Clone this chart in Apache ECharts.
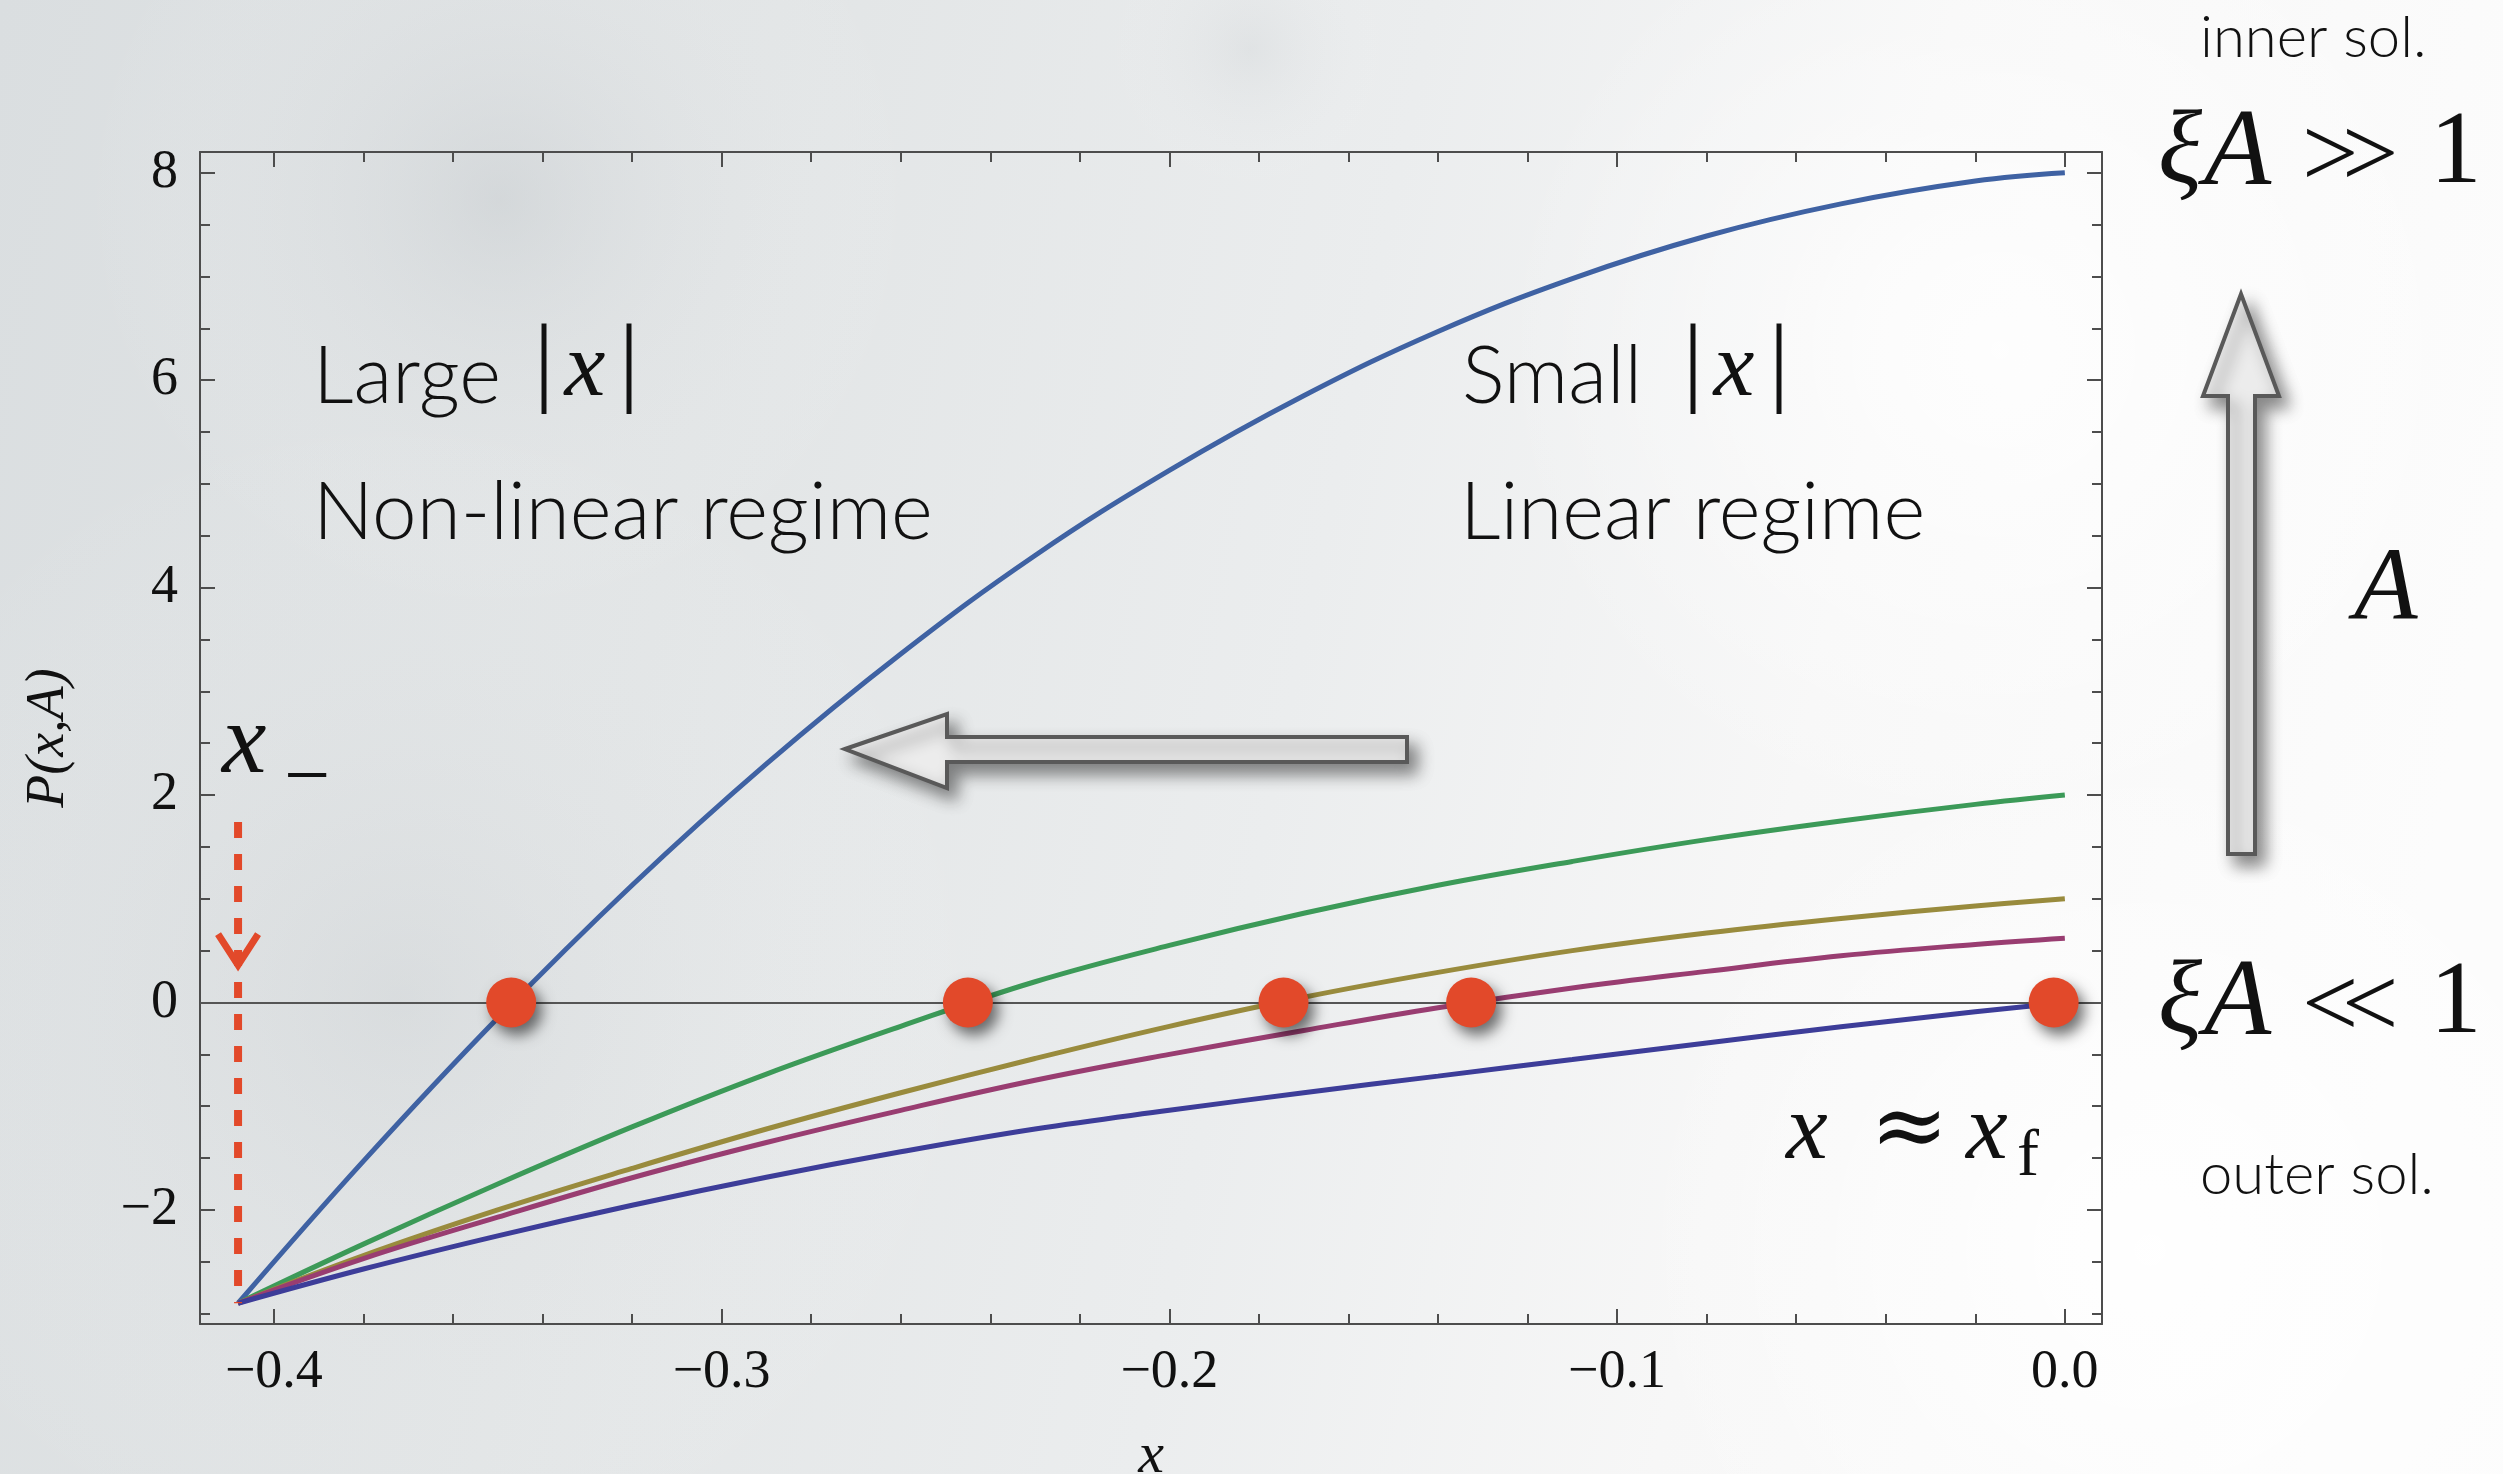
<!DOCTYPE html>
<html>
<head>
<meta charset="utf-8">
<title>P(x,A)</title>
<script src="https://cdn.jsdelivr.net/npm/echarts@6/dist/echarts.min.js"></script>
<style>
  html, body { margin: 0; padding: 0; background: #ffffff; }
  #chart { width: 2503px; height: 1474px; }
</style>
</head>
<body>
<div id="chart"></div>
<script>
// ---- data -------------------------------------------------------------
// Shared x positions for the five P(x,A) curves
const xValues  = [-0.408, -0.38, -0.35, -0.32, -0.29, -0.26, -0.23, -0.20, -0.17, -0.14, -0.11, -0.08, -0.05, -0.02, 0];
// One curve per value of A, from largest (blue) to smallest (purple)
const pBlue    = [-2.9, -1.53, -0.15, 1.13, 2.30, 3.36, 4.31, 5.13, 5.85, 6.47, 6.98, 7.39, 7.70, 7.92, 8.0];
const pGreen   = [-2.9, -2.33, -1.75, -1.20, -0.69, -0.23, 0.20, 0.55, 0.86, 1.13, 1.36, 1.57, 1.75, 1.91, 2.0];
const pOlive   = [-2.9, -2.44, -2.00, -1.60, -1.22, -0.87, -0.54, -0.23, 0.05, 0.29, 0.50, 0.67, 0.81, 0.93, 1.0];
const pMagenta = [-2.9, -2.47, -2.07, -1.69, -1.35, -1.04, -0.75, -0.50, -0.27, -0.05, 0.14, 0.30, 0.45, 0.56, 0.62];
const pPurple  = [-2.9, -2.57, -2.25, -1.955, -1.685, -1.44, -1.22, -1.04, -0.87, -0.71, -0.55, -0.39, -0.235, -0.09, 0];
// Zeros of each curve
const zeroCrossings = [-0.347, -0.245, -0.1745, -0.1326, -0.0025];
// x_- marker: dashed guide from above the axis down to the common start point
const xMinus = -0.408;
const guideTop = 1.74, guideArrow = 0.36, guideBottom = -2.9;
// Plot range
const xRange = [-0.4165, 0.0083];
const yRange = [-3.1, 8.2];

// ---- styling ----------------------------------------------------------
const serif = 'Liberation Serif';
const sans = 'Lato';
const red = '#E2492A';
const frameColor = '#4d4d4d';
const curveColors = ['#3F62A3', '#3C9A58', '#998B3D', '#993D71', '#3D3D99'];
const curves = [pBlue, pGreen, pOlive, pMagenta, pPurple];

const xLabel = v => {
  const k = Math.round(v * 10);
  if (Math.abs(v * 10 - k) > 1e-6) return '';
  return (k < 0 ? '\u2212' : '') + Math.abs(k / 10).toFixed(1);
};
const yLabel = v => {
  const k = Math.round(v);
  if (Math.abs(v - k) > 1e-6) return '';
  return (k < 0 ? '\u2212' : '') + Math.abs(k);
};

const lineCommon = { color: frameColor, width: 2 };
function frameX(pos, labels) {
  return {
    type: 'value', position: pos, min: xRange[0], max: xRange[1], splitNumber: 4,
    axisLine: { show: true, onZero: false, lineStyle: lineCommon },
    axisTick: { show: true, inside: true, length: 15, lineStyle: lineCommon },
    minorTick: { show: true, splitNumber: 5, length: 10, lineStyle: lineCommon },
    splitLine: { show: false }, minorSplitLine: { show: false },
    axisLabel: {
      show: labels, formatter: xLabel, margin: 22, showMinLabel: false, showMaxLabel: false,
      fontFamily: serif, fontSize: 54, color: '#111'
    },
    name: labels ? 'x' : '', nameLocation: 'middle', nameGap: 104,
    nameTextStyle: { fontFamily: serif, fontStyle: 'italic', fontSize: 58, color: '#111' }
  };
}
function frameY(pos, labels) {
  return {
    type: 'value', position: pos, min: yRange[0], max: yRange[1], splitNumber: 6,
    axisLine: { show: true, onZero: false, lineStyle: lineCommon },
    axisTick: { show: true, inside: true, length: 15, lineStyle: lineCommon },
    minorTick: { show: true, splitNumber: 4, length: 10, lineStyle: lineCommon },
    splitLine: { show: false }, minorSplitLine: { show: false },
    axisLabel: {
      show: labels, formatter: yLabel, margin: 22, showMinLabel: false, showMaxLabel: false,
      fontFamily: serif, fontSize: 54, color: '#111'
    },
    name: labels ? 'P(x,A)' : '', nameLocation: 'middle', nameGap: 124, nameRotate: 90,
    nameTextStyle: { fontFamily: serif, fontStyle: 'italic', fontSize: 54, color: '#111' }
  };
}

// ---- annotation helpers (text and grey outline arrows) ----------------
function label(x, y, text, font, align) {
  return {
    type: 'text', x: x, y: y, z: 60,
    style: { text: text, font: font, fill: '#111', align: align || 'left', verticalAlign: 'middle' }
  };
}
function outlineArrow(points) {
  return {
    type: 'polygon', z: 40,
    shape: { points: points },
    style: {
      fill: '#ececec', stroke: '#595959', lineWidth: 4, lineJoin: 'miter',
      shadowBlur: 16, shadowColor: 'rgba(0,0,0,0.45)', shadowOffsetX: 8, shadowOffsetY: 10
    }
  };
}
function softBlob(cx, cy, rx, ry, color) {
  return {
    type: 'ellipse', z: -10, silent: true,
    shape: { cx: cx, cy: cy, rx: rx, ry: ry },
    style: {
      fill: {
        type: 'radial', x: 0.5, y: 0.5, r: 0.5,
        colorStops: [{ offset: 0, color: color }, { offset: 1, color: 'rgba(255,255,255,0)' }]
      }
    }
  };
}

const italicBig = 'italic 100px ' + serif;
const textFont = '300 80px ' + sans;
const graphics = [
  // paper-like shading
  softBlob(500, 200, 1100, 420, 'rgba(190,195,199,0.35)'),
  softBlob(1250, 50, 800, 150, 'rgba(185,190,194,0.18)'),
  softBlob(400, 1000, 900, 600, 'rgba(200,204,207,0.30)'),
  softBlob(2150, 1250, 900, 520, 'rgba(255,255,255,0.9)'),
  softBlob(2000, 350, 800, 500, 'rgba(255,255,255,0.8)'),

  // regime labels
  label(313, 377, 'Large', textFont),
  label(544, 367, '|', '100px ' + serif, 'center'),
  label(585, 371, 'x', 'italic 92px ' + serif, 'center'),
  label(629, 367, '|', '100px ' + serif, 'center'),
  label(313, 513, 'Non-linear regime', textFont),

  label(1462, 377, 'Small', textFont),
  label(1693, 367, '|', '100px ' + serif, 'center'),
  label(1734, 371, 'x', 'italic 92px ' + serif, 'center'),
  label(1779, 367, '|', '100px ' + serif, 'center'),
  label(1460, 513, 'Linear regime', textFont),

  // x_- label
  label(222, 746, 'x', italicBig),
  label(307, 780, '\u2212', '82px ' + serif, 'center'),

  // x ≈ x_f
  label(1786, 1133, 'x', 'italic 94px ' + serif),
  label(1870, 1133, '\u2248', '94px DejaVu Serif'),
  label(1966, 1133, 'x', 'italic 94px ' + serif),
  label(2017, 1158, 'f', '66px ' + serif),

  // right-hand column
  label(2200, 38, 'inner sol.', '300 58px ' + sans),
  label(2158, 155, '\u03BE', 'italic 103px ' + serif),
  label(2204, 155, 'A', 'italic 110px ' + serif),
  label(2302, 160, '>', '100px ' + serif),
  label(2342, 160, '>', '100px ' + serif),
  label(2430, 155, '1', '103px ' + serif),
  label(2354, 592, 'A', 'italic 104px ' + serif),
  label(2158, 1005, '\u03BE', 'italic 103px ' + serif),
  label(2204, 1005, 'A', 'italic 110px ' + serif),
  label(2302, 1010, '<', '100px ' + serif),
  label(2342, 1010, '<', '100px ' + serif),
  label(2430, 1005, '1', '103px ' + serif),
  label(2200, 1175, 'outer sol.', '300 58px ' + sans),

  // grey arrows
  outlineArrow([[845, 749], [947, 714], [947, 737], [1407, 737], [1407, 762], [947, 762], [947, 788]]),
  outlineArrow([[2241, 294], [2279, 396], [2255, 396], [2255, 854], [2228, 854], [2228, 396], [2203, 396]])
];

// ---- chart ------------------------------------------------------------
const curveNames = ['A1', 'A2', 'A3', 'A4', 'A5'];
const lineSeries = curves.map((ys, i) => ({
  type: 'line', name: curveNames[i], xAxisIndex: 0, yAxisIndex: 0,
  data: xValues.map((x, j) => [x, ys[j]]),
  smooth: 0.4, showSymbol: false, symbol: 'none', silent: true, z: 3,
  lineStyle: { color: curveColors[i], width: 5 }
}));

const chart = echarts.init(document.getElementById('chart'), null, { renderer: 'canvas' });
chart.setOption({
  animation: false,
  backgroundColor: {
    type: 'linear', x: 0, y: 0, x2: 1, y2: 0.35,
    colorStops: [
      { offset: 0, color: '#dadee0' },
      { offset: 0.3, color: '#e2e5e6' },
      { offset: 0.55, color: '#ebedee' },
      { offset: 0.75, color: '#f7f7f7' },
      { offset: 1, color: '#fcfcfc' }
    ]
  },
  grid: { left: 200, top: 152, width: 1902, height: 1172, containLabel: false, outerBoundsMode: 'none' },
  xAxis: [frameX('bottom', true), frameX('top', false)],
  yAxis: [frameY('left', true), frameY('right', false)],
  graphic: graphics,
  series: [
    // horizontal axis at P = 0
    {
      type: 'line', data: [], silent: true, z: 2,
      markLine: {
        silent: true, symbol: ['none', 'none'], label: { show: false },
        lineStyle: { color: '#555', width: 2, type: 'solid' },
        data: [{ yAxis: 0 }]
      }
    },
    ...lineSeries,
    // dashed guide and arrowhead at x_-
    {
      type: 'custom', silent: true, z: 4,
      dimensions: ['x', 'top', 'arrow', 'bottom'],
      data: [[xMinus, guideTop, guideArrow, guideBottom]],
      renderItem: (params, api) => {
        const x = api.value(0);
        const top = api.coord([x, api.value(1)]);
        const tip = api.coord([x, api.value(2)]);
        const bot = api.coord([x, api.value(3)]);
        return {
          type: 'group',
          children: [
            { type: 'line', shape: { x1: top[0], y1: top[1], x2: bot[0], y2: bot[1] },
              style: { stroke: red, lineWidth: 8, lineDash: [16, 16] } },
            { type: 'polyline',
              shape: { points: [[tip[0] - 20, tip[1] - 31], [tip[0], tip[1]], [tip[0] + 20, tip[1] - 31]] },
              style: { stroke: red, lineWidth: 7, fill: null } }
          ]
        };
      }
    },
    // zero crossings
    {
      type: 'scatter', silent: true, z: 6,
      data: zeroCrossings.map(x => [x, 0]),
      symbol: 'circle', symbolSize: 50,
      itemStyle: {
        color: red, opacity: 1,
        shadowBlur: 14, shadowColor: 'rgba(0,0,0,0.55)', shadowOffsetX: 6, shadowOffsetY: 8
      }
    }
  ]
});
</script>
</body>
</html>
